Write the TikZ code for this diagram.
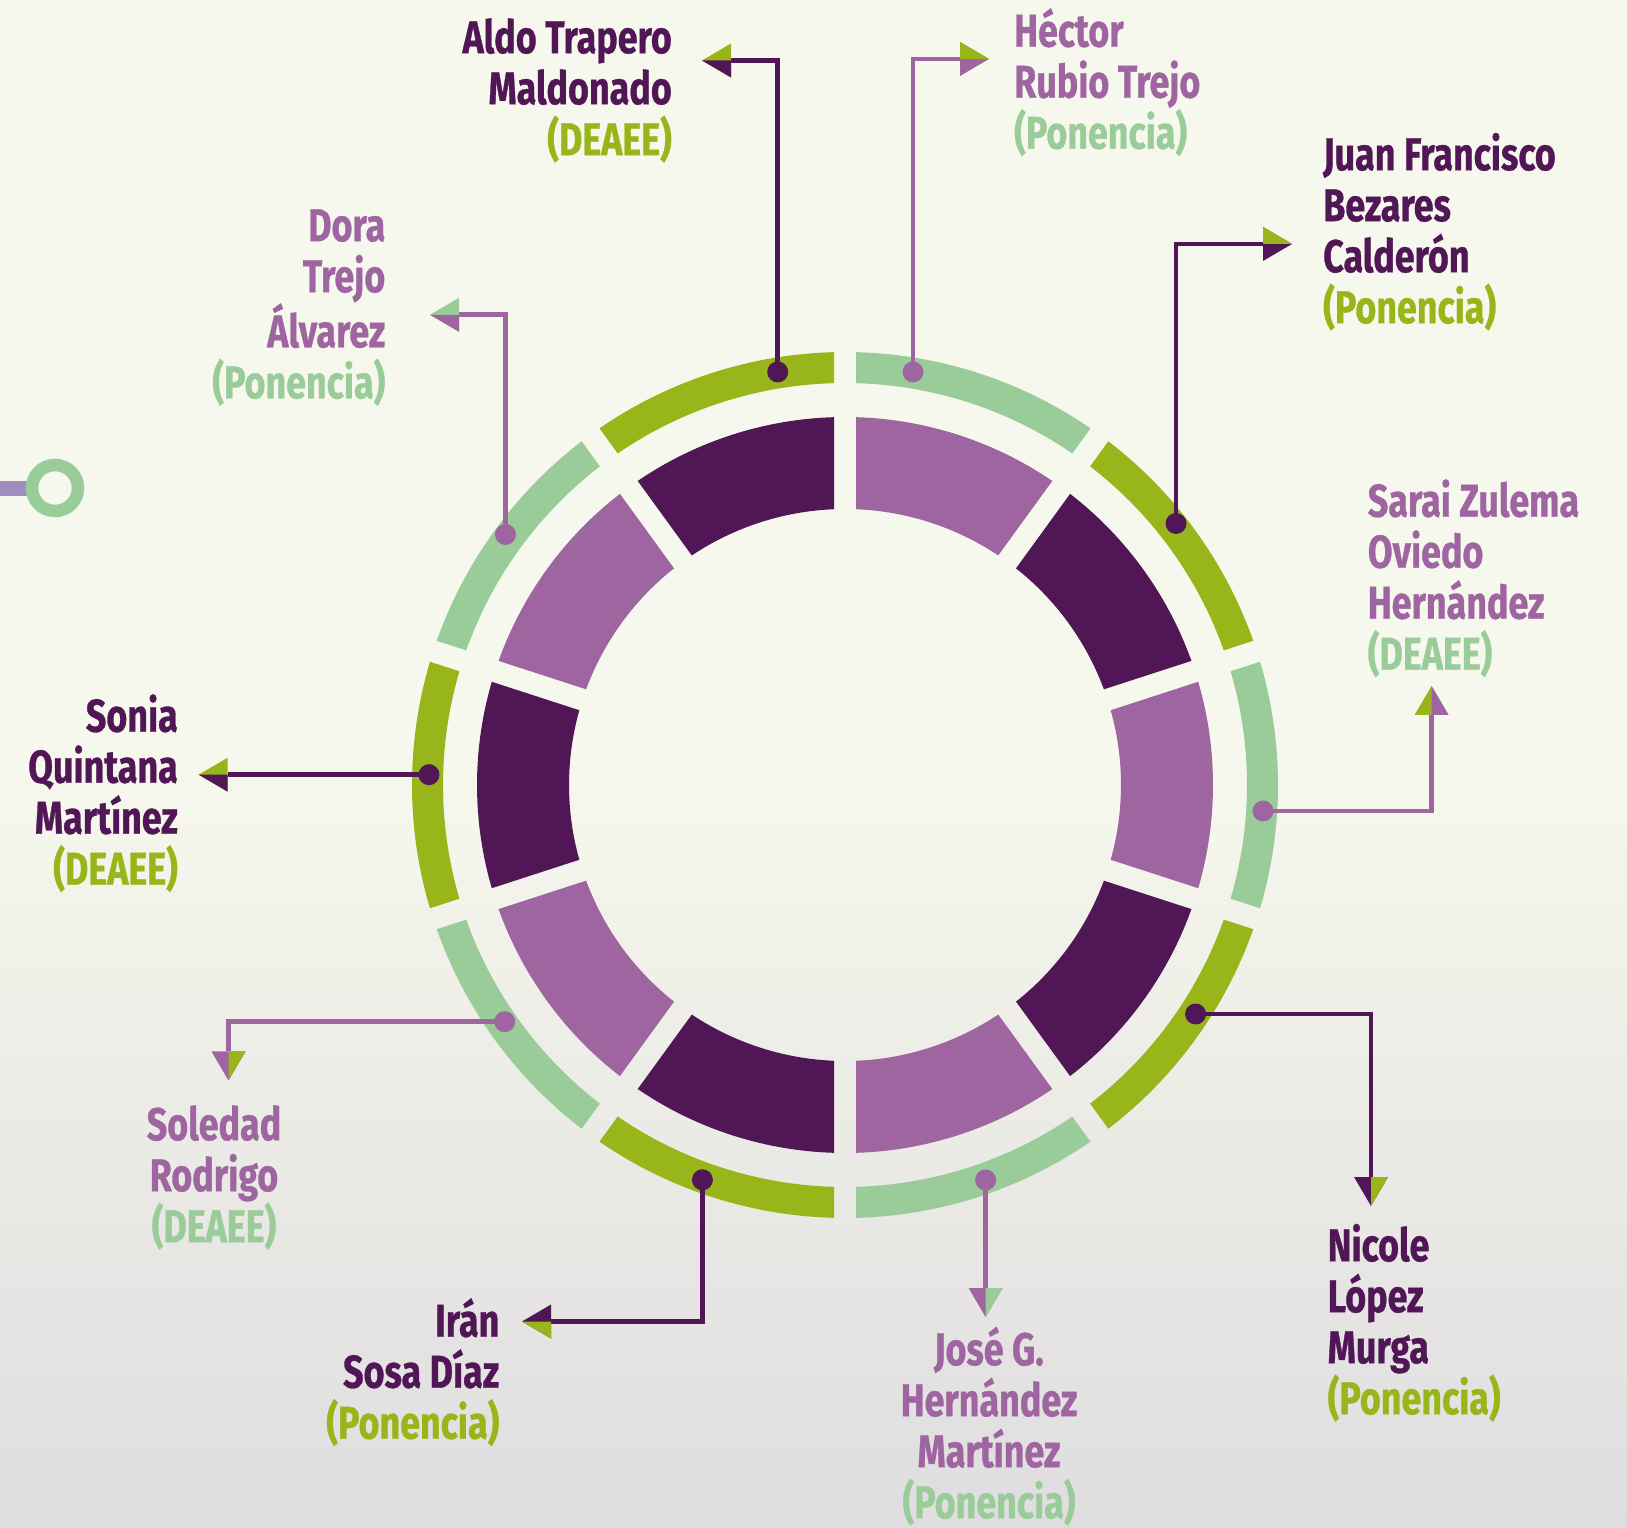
\documentclass[tikz,border=0pt]{standalone}
\usepackage{fontspec}
\newfontfamily\lblfont{Fira Sans}[FakeStretch=0.78,FakeBold=0.7]
\usetikzlibrary{calc}
\definecolor{olv}{HTML}{98B61A}
\definecolor{lgr}{HTML}{99CC99}
\definecolor{dpur}{HTML}{501656}
\definecolor{pur}{HTML}{9E65A1}
\definecolor{bgtop}{HTML}{F7F8ED}
\definecolor{bgbot}{HTML}{DFDDDF}
\definecolor{lav}{HTML}{A08CBE}

% annular segment with parallel-sided gaps (half gap 11)
\newcommand\ringseg[5]{%
  \pgfmathsetmacro\rsA{#1+asin(11/#3)}%
  \pgfmathsetmacro\rsB{#2-asin(11/#3)}%
  \pgfmathsetmacro\rsC{#1+asin(11/#4)}%
  \pgfmathsetmacro\rsD{#2-asin(11/#4)}%
  \fill[fill=#5] ([shift={(\rsA:#3)}]C) arc[start angle=\rsA, end angle=\rsB, radius=#3pt]
     -- ([shift={(\rsD:#4)}]C) arc[start angle=\rsD, end angle=\rsC, radius=#4pt] -- cycle;}

% two-tone arrow head: tip, direction, colour of left side, colour of right side
\newcommand\ahead[4]{%
  \begin{scope}[shift={(#1)},rotate=#2]
    \fill[fill=#4] (0,0) -- (-29,17) -- (-29,-17) -- cycle;
    \fill[fill=#3] (0,0) -- (-29,17) -- (-29,0) -- cycle;
  \end{scope}}

\tikzset{
  lbl/.style={inner sep=0pt, font=\lblfont\bfseries\fontsize{46}{51}\selectfont},
  conn/.style={line width=4.8pt},
  dotc/.style={circle, inner sep=0pt, minimum size=21pt, fill=#1},
}

\begin{document}
\begin{tikzpicture}[x=1pt,y=1pt]
\useasboundingbox (0,0) rectangle (1627,1527);
% background
\fill[bgtop] (0,0) rectangle (1627,1527);
\shade[top color=bgtop, bottom color=bgbot] (0,0) rectangle (1627,780);

% left decoration
\fill[lav] (0,1031) rectangle (32,1046);
\draw[lgr, line width=12.5pt] (55,1039) circle[radius=23pt];

\coordinate (C) at (845,742);

% rings
\foreach \k in {0,...,9}{
  \pgfmathsetmacro\segA{18+36*\k}
  \pgfmathsetmacro\segB{54+36*\k}
  \pgfmathtruncatemacro\pp{mod(\k,2)}
  \ifnum\pp=0 \def\oc{olv}\def\ic{dpur}\else\def\oc{lgr}\def\ic{pur}\fi
  \ringseg{\segA}{\segB}{433}{402}{\oc}
  \ringseg{\segA}{\segB}{368}{276}{\ic}
}

% dots
\node[dotc=dpur] (dA) at (777.7,1155) {};
\node[dotc=pur]  (dH) at (913,1155) {};
\node[dotc=dpur] (dJ) at (1176,1003.5) {};
\node[dotc=pur]  (dS) at (1263,716) {};
\node[dotc=dpur] (dN) at (1195.6,513) {};
\node[dotc=pur]  (dJo) at (985.6,347) {};
\node[dotc=dpur] (dI) at (702.4,347.2) {};
\node[dotc=pur]  (dSo) at (504.7,505.3) {};
\node[dotc=dpur] (dSn) at (429,752.3) {};
\node[dotc=pur]  (dD) at (505.5,992.5) {};

% arrow tips and bases
\coordinate (tA) at (702,1466.5);   \coordinate (bA) at (731,1466.5);
\coordinate (tH) at (989,1468);     \coordinate (bH) at (960,1468);
\coordinate (tJ) at (1292,1283);    \coordinate (bJ) at (1263,1283);
\coordinate (tS) at (1431.7,841);   \coordinate (bS) at (1431.7,812);
\coordinate (tN) at (1371,321);     \coordinate (bN) at (1371,350);
\coordinate (tJo) at (985.6,210);   \coordinate (bJo) at (985.6,239);
\coordinate (tI) at (522,205.5);    \coordinate (bI) at (551,205.5);
\coordinate (tSo) at (228.5,446.5); \coordinate (bSo) at (228.5,475.5);
\coordinate (tSn) at (198.7,752.3); \coordinate (bSn) at (227.7,752.3);
\coordinate (tD) at (430,1212.2);   \coordinate (bD) at (459,1212.2);

% connectors
\draw[conn, dpur] (dA.center) |- (bA);
\draw[conn, pur]  (dH.center) |- (bH);
\draw[conn, dpur] (dJ.center) |- (bJ);
\draw[conn, pur]  (dS.center) -| (bS);
\draw[conn, dpur] (dN.center) -| (bN);
\draw[conn, pur]  (dJo.center) -- (bJo);
\draw[conn, dpur] (dI.center) |- (bI);
\draw[conn, pur]  (dSo.center) -| (bSo);
\draw[conn, dpur] (dSn.center) -- (bSn);
\draw[conn, pur]  (dD.center) |- (bD);

% heads
\ahead{tA}{180}{dpur}{olv}
\ahead{tH}{0}{olv}{pur}
\ahead{tJ}{0}{olv}{dpur}
\ahead{tS}{90}{olv}{pur}
\ahead{tN}{270}{olv}{dpur}
\ahead{tJo}{270}{lgr}{pur}
\ahead{tI}{180}{olv}{dpur}
\ahead{tSo}{270}{olv}{pur}
\ahead{tSn}{180}{dpur}{olv}
\ahead{tD}{180}{pur}{lgr}

% labels
\node[lbl, text=dpur, anchor=north east, align=right] (lA) at (672,1514)
  {\rule{0pt}{40pt}Aldo Trapero\\Maldonado\\\textcolor{olv}{(DEAEE)}};
\node[lbl, text=pur, anchor=north east, align=right] (lD) at (385.5,1326)
  {\rule{0pt}{40pt}Dora\\Trejo\\Álvarez\\\textcolor{lgr}{(Ponencia)}};
\node[lbl, text=pur, anchor=north west, align=left] (lH) at (1014,1520.5)
  {\rule{0pt}{40pt}Héctor\\Rubio Trejo\\\textcolor{lgr}{(Ponencia)}};
\node[lbl, text=dpur, anchor=north west, align=left] (lJ) at (1323,1397)
  {\rule{0pt}{40pt}Juan Francisco\\Bezares\\Calderón\\\textcolor{olv}{(Ponencia)}};
\node[lbl, text=pur, anchor=north west, align=left] (lS) at (1367.6,1050.5)
  {\rule{0pt}{40pt}Sarai Zulema\\Oviedo\\Hernández\\\textcolor{lgr}{(DEAEE)}};
\node[lbl, text=dpur, anchor=north east, align=right] (lSn) at (178,835.5)
  {\rule{0pt}{40pt}Sonia\\Quintana\\Martínez\\\textcolor{olv}{(DEAEE)}};
\node[lbl, text=pur, anchor=north, align=center] (lSo) at (214,427)
  {\rule{0pt}{40pt}Soledad\\Rodrigo\\\textcolor{lgr}{(DEAEE)}};
\node[lbl, text=dpur, anchor=north east, align=right] (lI) at (499.5,230.5)
  {\rule{0pt}{40pt}Irán\\Sosa Díaz\\\textcolor{olv}{(Ponencia)}};
\node[lbl, text=pur, anchor=north, align=center] (lJo) at (989,202)
  {\rule{0pt}{40pt}José G.\\Hernández\\Martínez\\\textcolor{lgr}{(Ponencia)}};
\node[lbl, text=dpur, anchor=north west, align=left] (lN) at (1327.5,306)
  {\rule{0pt}{40pt}Nicole\\López\\Murga\\\textcolor{olv}{(Ponencia)}};
\end{tikzpicture}
\end{document}
